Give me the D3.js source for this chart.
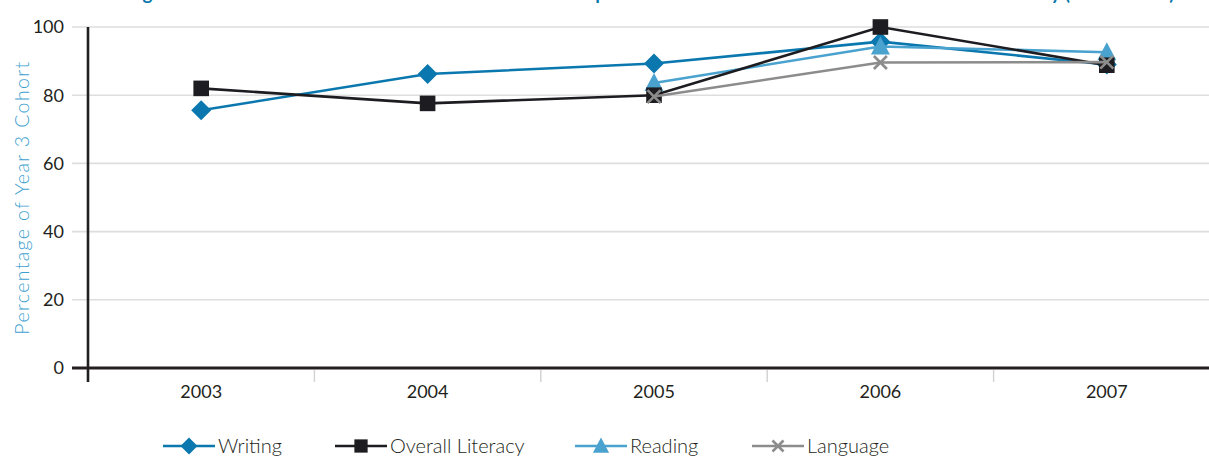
<!DOCTYPE html>
<html>
<head>
<meta charset="utf-8">
<script src="https://cdn.jsdelivr.net/npm/d3@7"></script>
<style>
  html, body { margin: 0; padding: 0; background: #fff; }
  svg { display: block; font-family: Lato, "Open Sans", sans-serif; }
</style>
</head>
<body>
<svg id="chart" width="1209" height="458"></svg>
<script>
// Year 3 cohort results by strand, 2003–2007
const years = ["2003", "2004", "2005", "2006", "2007"];
const writing = [75.6, 86.2, 89.3, 95.7, 89.0];
const overallLiteracy = [82.0, 77.6, 80.0, 100.0, 88.8];
const reading = [null, null, 83.6, 94.3, 92.6];
const language = [null, null, 79.6, 89.6, 89.7];
const yTicks = [0, 20, 40, 60, 80, 100];

const titleText = "Figure 6: Year 3 Students at or above Benchmark \u2013 Comparison of Results Across All Strands to Overall Literacy (2003\u20132007)";
const yTitle = "Percentage of Year 3 Cohort";

const series = [
  { name: "Writing", values: writing, color: "#0a78ae", marker: "diamond", legendX: 163, drawOrder: 0 },
  { name: "Overall Literacy", values: overallLiteracy, color: "#1d1c20", marker: "square", legendX: 335, drawOrder: 2 },
  { name: "Reading", values: reading, color: "#4aa2cf", marker: "triangle", legendX: 575, drawOrder: 1 },
  { name: "Language", values: language, color: "#8c8c8c", marker: "cross", legendX: 752, drawOrder: 3 }
];

const svg = d3.select("#chart");

const x = d3.scaleBand().domain(years).range([88, 1220]).padding(0);
const y = d3.scaleLinear().domain([0, 100]).range([368, 27]);

// Title (runs off the top edge)
svg.append("text")
  .attr("x", 127).attr("y", 0)
  .attr("fill", "#0a78ae")
  .attr("font-weight", "bold")
  .attr("font-size", 19)
  .text(titleText);

// Horizontal gridlines
const grid = svg.append("g");
grid.selectAll("line")
  .data(yTicks.filter(d => d > 0))
  .join("line")
  .attr("x1", 72).attr("x2", 1209)
  .attr("y1", d => y(d)).attr("y2", d => y(d))
  .attr("stroke", "#dedede").attr("stroke-width", 1.6);

// Y-axis tick labels
svg.append("g").selectAll("text")
  .data(yTicks)
  .join("text")
  .attr("x", 64)
  .attr("y", d => y(d))
  .attr("dy", "0.36em")
  .attr("text-anchor", "end")
  .attr("font-size", 18)
  .attr("fill", "#231f20")
  .text(d => d);

// Y-axis title
svg.append("text")
  .attr("transform", `translate(29,${(y(0) + y(100)) / 2}) rotate(-90)`)
  .attr("text-anchor", "middle")
  .attr("font-size", 19.5)
  .attr("font-weight", 300)
  .attr("letter-spacing", 1.4)
  .attr("fill", "#3d9fcf")
  .text(yTitle);

// Category separators below the baseline
svg.append("g").selectAll("line")
  .data(years.slice(1))
  .join("line")
  .attr("x1", d => x(d)).attr("x2", d => x(d))
  .attr("y1", 370).attr("y2", 382)
  .attr("stroke", "#d4d4d4").attr("stroke-width", 1.5);

// X-axis category labels
svg.append("g").selectAll("text")
  .data(years)
  .join("text")
  .attr("x", d => x(d) + x.bandwidth() / 2)
  .attr("y", 398)
  .attr("text-anchor", "middle")
  .attr("font-size", 18)
  .attr("fill", "#231f20")
  .text(d => d);

// Axis lines
svg.append("line")
  .attr("x1", 72).attr("x2", 1209)
  .attr("y1", y(0)).attr("y2", y(0))
  .attr("stroke", "#231f20").attr("stroke-width", 2.8);
svg.append("line")
  .attr("x1", 88).attr("x2", 88)
  .attr("y1", y(100)).attr("y2", 382)
  .attr("stroke", "#231f20").attr("stroke-width", 2.6);

// Marker shapes
function drawMarker(g, type, cx, cy, color, scale) {
  const s = scale || 1;
  if (type === "diamond") {
    const r = 10 * s;
    g.append("path")
      .attr("d", `M${cx},${cy - r}L${cx + r},${cy}L${cx},${cy + r}L${cx - r},${cy}Z`)
      .attr("fill", color);
  } else if (type === "square") {
    const h = 7.8 * s;
    g.append("rect")
      .attr("x", cx - h).attr("y", cy - h)
      .attr("width", 2 * h).attr("height", 2 * h)
      .attr("fill", color);
  } else if (type === "triangle") {
    const w = 9.5 * s, hTop = 10 * s, hBot = 8 * s;
    g.append("path")
      .attr("d", `M${cx},${cy - hTop}L${cx + w},${cy + hBot}L${cx - w},${cy + hBot}Z`)
      .attr("fill", color);
  } else if (type === "cross") {
    const r = 6.5 * s;
    g.append("path")
      .attr("d", `M${cx - r},${cy - r}L${cx + r},${cy + r}M${cx + r},${cy - r}L${cx - r},${cy + r}`)
      .attr("stroke", color).attr("stroke-width", 2.6).attr("fill", "none");
  }
}

// Series lines and markers
const line = d3.line()
  .defined(d => d.v != null)
  .x(d => x(d.year) + x.bandwidth() / 2)
  .y(d => y(d.v));

const plot = svg.append("g");
series.slice().sort((a, b) => a.drawOrder - b.drawOrder).forEach(s => {
  const pts = years.map((yr, i) => ({ year: yr, v: s.values[i] }));
  const g = plot.append("g");
  g.append("path")
    .datum(pts)
    .attr("d", line)
    .attr("fill", "none")
    .attr("stroke", s.color)
    .attr("stroke-width", 2.6);
  pts.filter(p => p.v != null).forEach(p => {
    drawMarker(g, s.marker, x(p.year) + x.bandwidth() / 2, y(p.v), s.color, 1);
  });
});

// Legend
const legend = svg.append("g");
const ly = 446;
series.forEach(s => {
  const g = legend.append("g");
  g.append("line")
    .attr("x1", s.legendX).attr("x2", s.legendX + 52)
    .attr("y1", ly).attr("y2", ly)
    .attr("stroke", s.color).attr("stroke-width", 2.6);
  drawMarker(g, s.marker, s.legendX + 26, ly, s.color, 0.85);
  g.append("text")
    .attr("x", s.legendX + 55)
    .attr("y", ly)
    .attr("dy", "0.35em")
    .attr("font-size", 20)
    .attr("font-weight", 300)
    .attr("fill", "#231f20")
    .text(s.name);
});
</script>
</body>
</html>
